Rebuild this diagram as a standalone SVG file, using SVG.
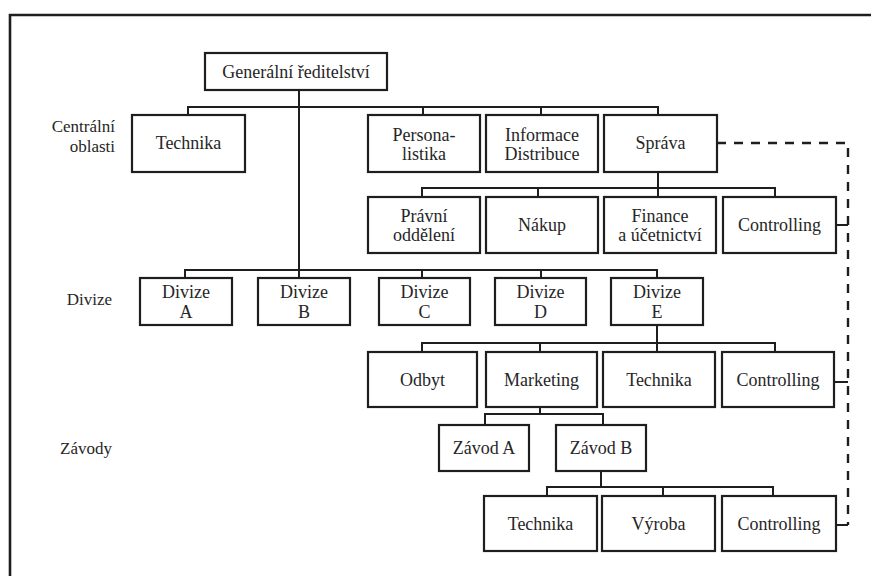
<svg xmlns="http://www.w3.org/2000/svg" width="871" height="576" viewBox="0 0 871 576">
  <style>
    .box rect { fill: #ffffff; stroke: #1e1e1e; stroke-width: 2.2; }
    .box text, .lbl { font-family: "Liberation Serif", "Times New Roman", serif; font-size: 18px; fill: #262626; }
    .lbl { font-size: 17px; }
    .box text { text-anchor: middle; }
    .conn path { fill: none; stroke: #1e1e1e; stroke-width: 2; }
    .conn .dash { stroke-width: 2.4; stroke-dasharray: 9 8; }
    .frame { fill: none; stroke: #1e1e1e; stroke-width: 2.6; }
  </style>
  <rect width="871" height="576" fill="#ffffff"/>

  <!-- page frame -->
  <path class="frame" d="M10,576 V15 H871"/>

  <!-- level labels -->
  <g id="labels">
    <text class="lbl" x="115" y="132" text-anchor="end">Centrální</text>
    <text class="lbl" x="115" y="152" text-anchor="end">oblasti</text>
    <text class="lbl" x="112" y="305" text-anchor="end">Divize</text>
    <text class="lbl" x="112" y="454" text-anchor="end">Závody</text>
  </g>

  <!-- connectors -->
  <g id="connectors" class="conn">
    <!-- top: general management -->
    <path d="M299,90 V270"/>
    <path d="M188,115 V107 H658 V197"/>
    <path d="M423,107 V115 M541,107 V115"/>
    <!-- administration departments -->
    <path d="M422,197 V188 H775 V197 M538,188 V197"/>
    <!-- divisions -->
    <path d="M185,278 V270 H657 V278 M299,270 V278 M422,270 V278 M541,270 V278"/>
    <!-- division E departments -->
    <path d="M657,325 V352 M422,352 V343 H775 V352 M540,343 V352"/>
    <!-- plants under marketing -->
    <path d="M540,407 V414 M485,425 V414 H603 V425"/>
    <!-- plant B departments -->
    <path d="M601,471 V487 M547,496 V487 H773 V496 M663,487 V496"/>
    <!-- controlling reporting line -->
    <path class="dash" d="M717,143 H848 V525"/>
    <path d="M836,225 H848 M834,382 H848 M836,525 H848"/>
  </g>

  <!-- nodes -->
  <g id="n-general" class="box"><rect x="205" y="53" width="182" height="37"/><text x="296" y="78">Generální ředitelství</text></g>

  <g id="n-technika1" class="box"><rect x="132" y="115" width="113" height="57"/><text x="188.5" y="149">Technika</text></g>
  <g id="n-personalistika" class="box"><rect x="368" y="115" width="112" height="57"/><text x="424" y="141">Persona-</text><text x="424" y="160">listika</text></g>
  <g id="n-informace" class="box"><rect x="486" y="115" width="112" height="57"/><text x="542" y="141">Informace</text><text x="542" y="160">Distribuce</text></g>
  <g id="n-sprava" class="box"><rect x="604" y="115" width="113" height="57"/><text x="660.5" y="149">Správa</text></g>

  <g id="n-pravni" class="box"><rect x="368" y="197" width="112" height="56"/><text x="424" y="222">Právní</text><text x="424" y="241">oddělení</text></g>
  <g id="n-nakup" class="box"><rect x="486" y="197" width="112" height="56"/><text x="542" y="231">Nákup</text></g>
  <g id="n-finance" class="box"><rect x="604" y="197" width="112" height="56"/><text x="660" y="222">Finance</text><text x="660" y="241">a účetnictví</text></g>
  <g id="n-controlling1" class="box"><rect x="723" y="197" width="113" height="56"/><text x="779.5" y="231">Controlling</text></g>

  <g id="n-divize-a" class="box"><rect x="140" y="278" width="92" height="47"/><text x="186" y="298">Divize</text><text x="186" y="318">A</text></g>
  <g id="n-divize-b" class="box"><rect x="258" y="278" width="92" height="47"/><text x="304" y="298">Divize</text><text x="304" y="318">B</text></g>
  <g id="n-divize-c" class="box"><rect x="379" y="278" width="91" height="47"/><text x="424.5" y="298">Divize</text><text x="424.5" y="318">C</text></g>
  <g id="n-divize-d" class="box"><rect x="495" y="278" width="91" height="47"/><text x="540.5" y="298">Divize</text><text x="540.5" y="318">D</text></g>
  <g id="n-divize-e" class="box"><rect x="611" y="278" width="92" height="47"/><text x="657" y="298">Divize</text><text x="657" y="318">E</text></g>

  <g id="n-odbyt" class="box"><rect x="368" y="352" width="109" height="55"/><text x="422.5" y="386">Odbyt</text></g>
  <g id="n-marketing" class="box"><rect x="486" y="352" width="111" height="55"/><text x="541.5" y="386">Marketing</text></g>
  <g id="n-technika2" class="box"><rect x="603" y="352" width="112" height="55"/><text x="659" y="386">Technika</text></g>
  <g id="n-controlling2" class="box"><rect x="722" y="352" width="112" height="55"/><text x="778" y="386">Controlling</text></g>

  <g id="n-zavod-a" class="box"><rect x="439" y="425" width="90" height="46"/><text x="484" y="454">Závod A</text></g>
  <g id="n-zavod-b" class="box"><rect x="556" y="425" width="90" height="46"/><text x="601" y="454">Závod B</text></g>

  <g id="n-technika3" class="box"><rect x="484" y="496" width="113" height="55"/><text x="540.5" y="530">Technika</text></g>
  <g id="n-vyroba" class="box"><rect x="602" y="496" width="113" height="55"/><text x="658.5" y="530">Výroba</text></g>
  <g id="n-controlling3" class="box"><rect x="722" y="496" width="114" height="55"/><text x="779" y="530">Controlling</text></g>
</svg>
